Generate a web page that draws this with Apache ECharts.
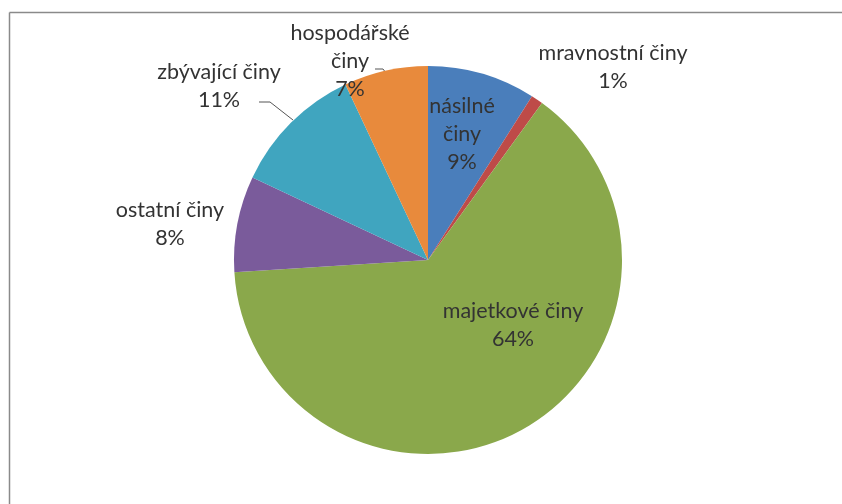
<!DOCTYPE html>
<html>
<head>
<meta charset="utf-8">
<style>
  html, body { margin: 0; padding: 0; background: #ffffff; overflow: hidden; }
  #chart { width: 842px; height: 504px; }
</style>
<script src="https://cdn.jsdelivr.net/npm/echarts@6/dist/echarts.min.js"></script>
</head>
<body>
<div id="chart"></div>
<script>
// Offence categories, clockwise from 12 o'clock
const categories = ['násilné činy', 'mravnostní činy', 'majetkové činy', 'ostatní činy', 'zbývající činy', 'hospodářské činy'];
// Label text as it wraps on the chart
const labelNames = ['násilné\nčiny', 'mravnostní činy', 'majetkové činy', 'ostatní činy', 'zbývající činy', 'hospodářské\nčiny'];
// Share of each category (%)
const shares = [9, 1, 64, 8, 11, 7];
const colors = ['#4a7ebb', '#be4b48', '#8aa84b', '#7a5b9b', '#40a5bf', '#e88a3c'];

// Label anchors (centre of each text block) and optional leader lines
const labelSpots = [
  { x: 462, y: 134 },
  { x: 613, y: 67 },
  { x: 513, y: 325 },
  { x: 170, y: 224 },
  { x: 219, y: 86, line: [[259, 102], [270, 102], [293, 120]] },
  { x: 350, y: 61, line: [[375, 69], [383, 69], [386, 73]] }
];

const chart = echarts.init(document.getElementById('chart'), null, { renderer: 'canvas' });

chart.setOption({
  animation: false,
  graphic: [
    // chart-area frame: left and top edges
    {
      type: 'line',
      shape: { x1: 9.5, y1: 12.5, x2: 9.5, y2: 504 },
      style: { stroke: '#8a8a8a', lineWidth: 1.5 },
      silent: true
    },
    {
      type: 'line',
      shape: { x1: 9.5, y1: 12.5, x2: 842, y2: 12.5 },
      style: { stroke: '#8a8a8a', lineWidth: 1.5 },
      silent: true
    }
  ],
  series: [{
    type: 'pie',
    center: [428, 260],
    radius: 194,
    startAngle: 90,
    clockwise: true,
    percentPrecision: 0,
    avoidLabelOverlap: false,
    itemStyle: { borderWidth: 0 },
    label: {
      show: true,
      position: 'outside',
      fontFamily: 'Lato',
      fontSize: 21.5,
      lineHeight: 28,
      color: '#333333',
      align: 'center',
      formatter: p => labelNames[p.dataIndex] + '\n' + p.percent + '%'
    },
    labelLine: { show: true, lineStyle: { color: '#555555', width: 1 } },
    labelLayout: p => {
      const s = labelSpots[p.dataIndex];
      const out = { x: s.x, y: s.y, align: 'center', verticalAlign: 'middle' };
      if (s.line) out.labelLinePoints = s.line;
      return out;
    },
    data: categories.map((name, i) => ({
      name,
      value: shares[i],
      itemStyle: { color: colors[i] },
      labelLine: { show: !!labelSpots[i].line }
    }))
  }]
});
</script>
</body>
</html>
